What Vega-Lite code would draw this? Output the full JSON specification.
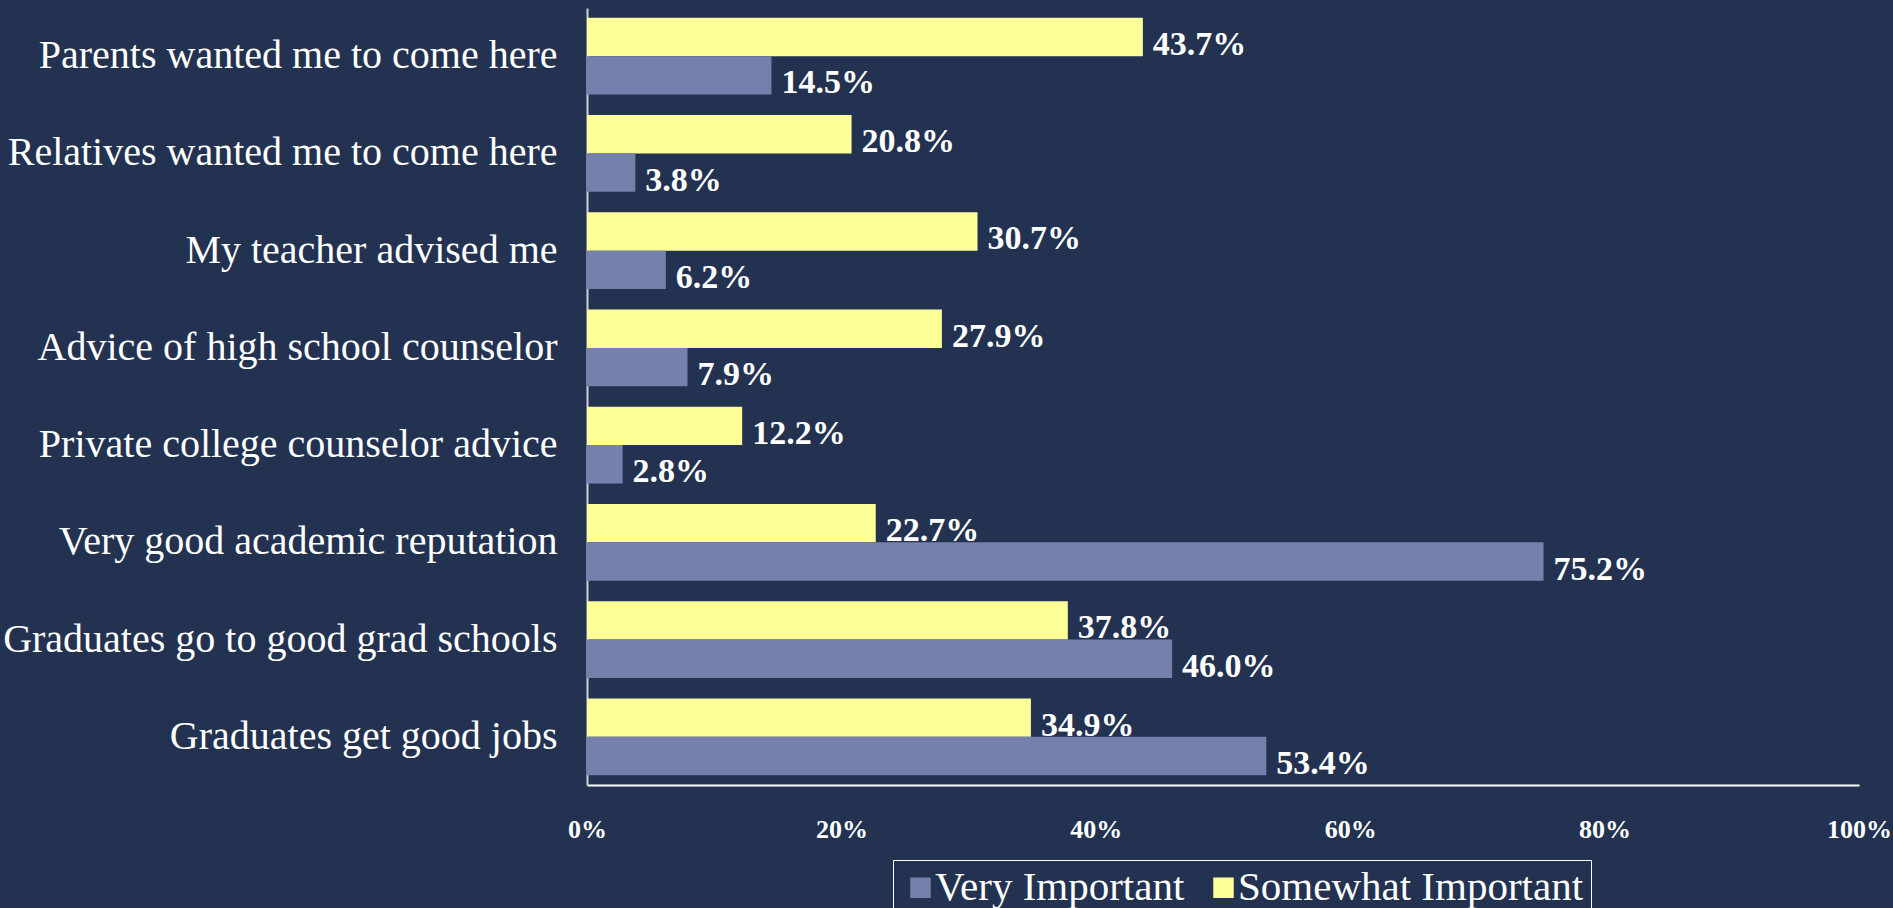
{
  "$schema": "https://vega.github.io/schema/vega-lite/v6.json",
  "autosize": "none",
  "width": 1272,
  "height": 777,
  "padding": {"left": 587, "top": 8, "right": 34, "bottom": 123},
  "background": "#223250",
  "data": {
    "values": [
      {"reason": "Parents wanted me to come here", "series": "Somewhat Important", "value": 0.437},
      {"reason": "Parents wanted me to come here", "series": "Very Important", "value": 0.145},
      {"reason": "Relatives wanted me to come here", "series": "Somewhat Important", "value": 0.208},
      {"reason": "Relatives wanted me to come here", "series": "Very Important", "value": 0.038},
      {"reason": "My teacher advised me", "series": "Somewhat Important", "value": 0.307},
      {"reason": "My teacher advised me", "series": "Very Important", "value": 0.062},
      {"reason": "Advice of high school counselor", "series": "Somewhat Important", "value": 0.279},
      {"reason": "Advice of high school counselor", "series": "Very Important", "value": 0.079},
      {"reason": "Private college counselor advice", "series": "Somewhat Important", "value": 0.122},
      {"reason": "Private college counselor advice", "series": "Very Important", "value": 0.028},
      {"reason": "Very good academic reputation", "series": "Somewhat Important", "value": 0.227},
      {"reason": "Very good academic reputation", "series": "Very Important", "value": 0.752},
      {"reason": "Graduates go to good grad schools", "series": "Somewhat Important", "value": 0.378},
      {"reason": "Graduates go to good grad schools", "series": "Very Important", "value": 0.46},
      {"reason": "Graduates get good jobs", "series": "Somewhat Important", "value": 0.349},
      {"reason": "Graduates get good jobs", "series": "Very Important", "value": 0.534}
    ]
  },
  "encoding": {
    "y": {
      "field": "reason",
      "type": "nominal",
      "sort": null,
      "title": null,
      "scale": {"paddingInner": 0.21, "paddingOuter": 0.1},
      "axis": {
        "domain": true,
        "domainColor": "#d0d0d8",
        "domainWidth": 2,
        "ticks": false,
        "labelPadding": 30,
        "labelLimit": 700,
        "labelFont": "Liberation Serif",
        "labelFontSize": 40,
        "labelColor": "#ffffff",
        "labelFontWeight": "normal"
      }
    },
    "yOffset": {
      "field": "series",
      "type": "nominal",
      "sort": ["Somewhat Important", "Very Important"]
    },
    "x": {
      "field": "value",
      "type": "quantitative",
      "title": null,
      "scale": {"domain": [0, 1], "nice": false},
      "axis": {
        "values": [0, 0.2, 0.4, 0.6, 0.8, 1],
        "format": ".0%",
        "grid": false,
        "ticks": false,
        "domainColor": "#ffffff",
        "domainWidth": 2,
        "labelPadding": 31,
        "labelFont": "Liberation Serif",
        "labelFontSize": 26,
        "labelFontWeight": "bold",
        "labelColor": "#ffffff",
        "labelFlush": false
      }
    }
  },
  "layer": [
    {
      "mark": {"type": "bar"},
      "encoding": {
        "color": {
          "field": "series",
          "type": "nominal",
          "scale": {
            "domain": ["Very Important", "Somewhat Important"],
            "range": ["#7580ac", "#ffff99"]
          },
          "legend": {
            "title": null,
            "orient": "none",
            "legendX": 306,
            "legendY": 852,
            "direction": "horizontal",
            "columns": 2,
            "symbolType": "square",
            "symbolSize": 420,
            "symbolStrokeWidth": 0,
            "symbolOpacity": 1,
            "labelFont": "Liberation Serif",
            "labelFontSize": 41,
            "labelColor": "#ffffff",
            "labelOffset": -6,
            "columnPadding": 18,
            "padding": 7,
            "strokeColor": "#ffffff",
            "fillColor": "#223250",
            "labelLimit": 500
          }
        }
      }
    },
    {
      "mark": {
        "type": "text",
        "align": "left",
        "baseline": "middle",
        "dx": 10,
        "dy": 8,
        "font": "Liberation Serif",
        "fontSize": 34,
        "fontWeight": "bold",
        "color": "#ffffff"
      },
      "encoding": {
        "text": {"field": "value", "type": "quantitative", "format": ".1%"}
      }
    }
  ],
  "config": {
    "view": {"stroke": null}
  }
}
